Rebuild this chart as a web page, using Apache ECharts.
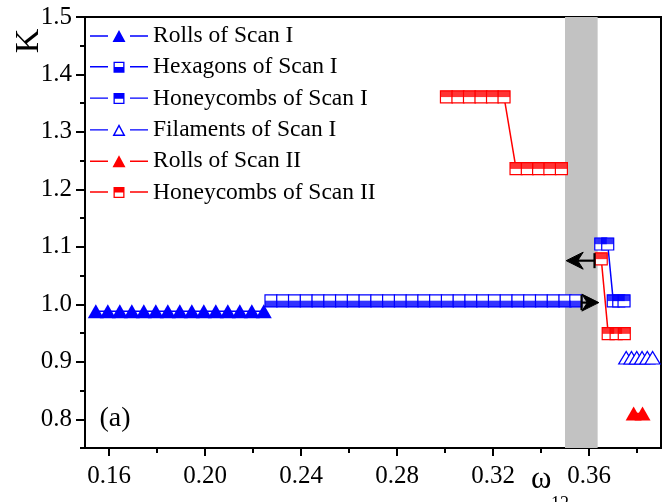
<!DOCTYPE html>
<html><head><meta charset="utf-8">
<script src="https://cdn.jsdelivr.net/npm/echarts@6/dist/echarts.min.js"></script>
<style>html,body{margin:0;padding:0;background:#fff}#c{width:667px;height:502px}</style>
</head><body><div id="c"></div>
<script>
// ---- axis ticks ----
const xTicks = [0.16, 0.20, 0.24, 0.28, 0.32, 0.36];
const xMinorTicks = [0.18, 0.22, 0.26, 0.30, 0.34, 0.38];
const yTicks = [0.8, 0.9, 1.0, 1.1, 1.2, 1.3, 1.4, 1.5];
const yMinorTicks = [0.75, 0.85, 0.95, 1.05, 1.15, 1.25, 1.35, 1.45];

// ---- series names ----
const names = ['Rolls of Scan I', 'Hexagons of Scan I', 'Honeycombs of Scan I',
  'Filaments of Scan I', 'Rolls of Scan II', 'Honeycombs of Scan II'];

// ---- data ----
const rollsIx = [0.1545, 0.1595, 0.1645, 0.1695, 0.1745, 0.1795, 0.1845, 0.1895, 0.1945, 0.1995, 0.2045, 0.2095, 0.2145, 0.2195, 0.2245];
const rollsIy = [0.988, 0.988, 0.988, 0.988, 0.988, 0.988, 0.988, 0.988, 0.988, 0.988, 0.988, 0.988, 0.988, 0.988, 0.988];

const hexIx = [0.2275, 0.2324, 0.2373, 0.2422, 0.2471, 0.2520, 0.2569, 0.2618, 0.2667, 0.2716, 0.2765, 0.2814, 0.2863, 0.2912, 0.2961, 0.3010, 0.3059, 0.3108, 0.3157, 0.3206, 0.3255, 0.3304, 0.3353, 0.3402, 0.3451, 0.3500, 0.3545];
const hexIy = [1.006, 1.006, 1.006, 1.006, 1.006, 1.006, 1.006, 1.006, 1.006, 1.006, 1.006, 1.006, 1.006, 1.006, 1.006, 1.006, 1.006, 1.006, 1.006, 1.006, 1.006, 1.006, 1.006, 1.006, 1.006, 1.006, 1.006];

const honIx = [0.3649, 0.3678, 0.3701, 0.3724, 0.3746];
const honIy = [1.105, 1.105, 1.006, 1.006, 1.006];

const filIx = [0.3755, 0.3777, 0.3799, 0.3821, 0.3843, 0.3865];
const filIy = [0.907, 0.907, 0.907, 0.907, 0.907, 0.907];

const rollsIIx = [0.3786, 0.3823];
const rollsIIy = [0.810, 0.810];

const honIIax = [0.3006, 0.3054, 0.3102, 0.3150, 0.3198, 0.3246, 0.3296, 0.3343, 0.3390, 0.3437, 0.3485];
const honIIay = [1.361, 1.361, 1.361, 1.361, 1.361, 1.361, 1.236, 1.236, 1.236, 1.236, 1.236];
const honIIbx = [0.3651, 0.3680, 0.3713, 0.3747];
const honIIby = [1.079, 0.949, 0.949, 0.949];

// arrows (annotation): tail x, y, tip x ; shaded band
const arrowTail = [0.3569, 0.3623];
const arrowY = [1.003, 1.076];
const arrowTip = [0.3641, 0.3505];
const band = [0.3500, 0.3636];

const BLUE = '#0000ff', RED = '#ff0000';
const zip = (xs, ys) => xs.map((x, i) => [x, ys[i]]);

const FONT = 'Liberation Serif';

function lineS(name, xs, ys, color, sym, size, fill) {
  return {
    type: 'line', name: name, data: zip(xs, ys), z: 2,
    symbol: sym, symbolSize: size, showAllSymbol: true,
    lineStyle: { color: color, width: 1.5 },
    itemStyle: fill === 'open' ? { color: '#fff', borderColor: color, borderWidth: 1.2 } : { color: color, borderWidth: 0 },
    emphasis: { disabled: true }, silent: true
  };
}
function halfS(name, xs, ys, color, top) {
  return {
    type: 'scatter', name: name, data: zip(xs, ys), z: 3,
    symbol: 'rect', symbolSize: [12, 6.4], symbolOffset: [0, top ? -3 : 3],
    itemStyle: { color: color, borderWidth: 0 }, emphasis: { disabled: true }, silent: true
  };
}

// arrows drawn through the axes' coordinate mapping
const arrowSeries = {
  type: 'custom', name: 'arrows', z: 6, silent: true,
  itemStyle: { color: '#000' },
  data: arrowTail.map((t, i) => [t, arrowY[i], arrowTip[i]]),
  renderItem: function (params, api) {
    const p0 = api.coord([api.value(0), api.value(1)]);
    const p1 = api.coord([api.value(2), api.value(1)]);
    const d = p1[0] > p0[0] ? 1 : -1;
    const L = 17, H = 8.5, notch = 5.5;
    const y = p0[1];
    return {
      type: 'group',
      children: [
        { type: 'line', shape: { x1: p0[0], y1: y, x2: p1[0] - d * (L - notch), y2: y },
          style: { stroke: '#000', lineWidth: 2.2, fill: null } },
        { type: 'rect', shape: { x: p0[0] - 1.1, y: y - 7.5, width: 2.2, height: 15 },
          style: { fill: '#000', stroke: null } },
        { type: 'polygon', shape: { points: [
            [p1[0], y], [p1[0] - d * L, y - H], [p1[0] - d * (L - notch), y], [p1[0] - d * L, y + H]] },
          style: { fill: '#000', stroke: '#000', lineWidth: 1, lineJoin: 'miter' } }
      ]
    };
  }
};

// legend icons: dash – marker – dash
const dash = 'M0,5.3 L18,5.3 L18,6.7 L0,6.7 Z M40,5.3 L58,5.3 L58,6.7 L40,6.7 Z ';
const icTriFill = 'path://' + dash + 'M29,0 L35.5,12 L22.5,12 Z';
const icTriOpen = 'path://' + dash + 'M29,0 L35.5,12 L22.5,12 Z M29,3.2 L25,10.6 L33,10.6 Z';
const icHon = 'path://' + dash + 'M23.5,1 L34.5,1 L34.5,12 L23.5,12 Z M24.8,6.6 L24.8,10.7 L33.2,10.7 L33.2,6.6 Z';
const icHex = 'path://' + dash + 'M23.5,1 L34.5,1 L34.5,12 L23.5,12 Z M24.8,2.3 L24.8,6.2 L33.2,6.2 L33.2,2.3 Z';
const legendIcons = [icTriFill, icHex, icHon, icTriOpen, icTriFill, icHon];
const legendColors = [BLUE, BLUE, BLUE, BLUE, RED, RED];

const chart = echarts.init(document.getElementById('c'), null, { renderer: 'canvas' });
chart.setOption({
  animation: false,
  backgroundColor: '#fff',
  grid: { left: 85, right: 6, top: 17, bottom: 54, show: true, borderColor: '#000', borderWidth: 2, backgroundColor: 'transparent' },
  legend: {
    orient: 'vertical', left: 90, top: 24, padding: 0, itemGap: 7.3,
    itemWidth: 58, itemHeight: 12, selectedMode: false,
    textStyle: { fontFamily: FONT, fontSize: 23.5, color: '#000', lineHeight: 24 },
    data: names.map((n, i) => ({ name: n, icon: legendIcons[i], itemStyle: { color: legendColors[i], borderWidth: 0 } }))
  },
  xAxis: [{
    type: 'value', min: 0.15, max: 0.39, position: 'bottom',
    axisLine: { show: true, onZero: false, lineStyle: { color: '#000', width: 2 } },
    axisTick: { show: true, customValues: xTicks, length: 8, lineStyle: { color: '#000', width: 2 } },
    axisLabel: { customValues: xTicks, margin: 12, padding: [4, 0, 0, 0], verticalAlign: 'top',
      fontFamily: FONT, fontSize: 25, color: '#000', formatter: v => v.toFixed(2) },
    splitLine: { show: false }
  }, {
    type: 'value', min: 0.15, max: 0.39, position: 'bottom',
    axisLine: { show: false },
    axisTick: { show: true, customValues: xMinorTicks, length: 5, lineStyle: { color: '#000', width: 2 } },
    axisLabel: { show: false }, splitLine: { show: false }
  }],
  yAxis: [{
    type: 'value', min: 0.75, max: 1.5, position: 'left',
    axisLine: { show: true, onZero: false, lineStyle: { color: '#000', width: 2 } },
    axisTick: { show: true, customValues: yTicks, length: 9, lineStyle: { color: '#000', width: 2 } },
    axisLabel: { customValues: yTicks, margin: 13, fontFamily: FONT, fontSize: 25, color: '#000',
      formatter: v => v.toFixed(1) },
    splitLine: { show: false }
  }, {
    type: 'value', min: 0.75, max: 1.5, position: 'left',
    axisLine: { show: false },
    axisTick: { show: true, customValues: yMinorTicks, length: 5, lineStyle: { color: '#000', width: 2 } },
    axisLabel: { show: false }, splitLine: { show: false }
  }],
  graphic: [
    { type: 'text', x: 29, y: 41, rotation: Math.PI / 2, silent: true,
      style: { text: 'K', font: '34px "Liberation Serif"', fill: '#000', align: 'center', verticalAlign: 'middle' } },
    { type: 'text', x: 531, y: 480, silent: true,
      style: { text: 'ω', font: '31px "Liberation Serif"', fill: '#000', align: 'left', verticalAlign: 'middle' } },
    { type: 'text', x: 551, y: 504, silent: true,
      style: { text: '12', font: '18px "Liberation Serif"', fill: '#000', align: 'left', verticalAlign: 'middle' } },
    { type: 'text', x: 115, y: 419, silent: true,
      style: { text: '(a)', font: '28px "Liberation Serif"', fill: '#000', align: 'center', verticalAlign: 'middle' } }
  ],
  series: [
    { type: 'line', name: 'band', data: [], z: 1, silent: true,
      markArea: { silent: true, itemStyle: { color: '#c2c2c2', opacity: 1 },
        data: [[{ xAxis: band[0] }, { xAxis: band[1] }]] } },
    lineS(names[0], rollsIx, rollsIy, BLUE, 'triangle', [16, 14], 'fill'),
    lineS(names[1], hexIx, hexIy, BLUE, 'rect', [12, 12], 'open'),
    halfS(names[1], hexIx, hexIy, BLUE, false),
    lineS(names[2], honIx, honIy, BLUE, 'rect', [12, 12], 'open'),
    halfS(names[2], honIx, honIy, BLUE, true),
    lineS(names[3], filIx, filIy, BLUE, 'triangle', [15, 12.5], 'open'),
    lineS(names[4], rollsIIx, rollsIIy, RED, 'triangle', [16, 14], 'fill'),
    lineS(names[5], honIIax, honIIay, RED, 'rect', [12, 12], 'open'),
    halfS(names[5], honIIax, honIIay, RED, true),
    lineS(names[5], honIIbx, honIIby, RED, 'rect', [12, 12], 'open'),
    halfS(names[5], honIIbx, honIIby, RED, true),
    arrowSeries
  ]
});
</script></body></html>
